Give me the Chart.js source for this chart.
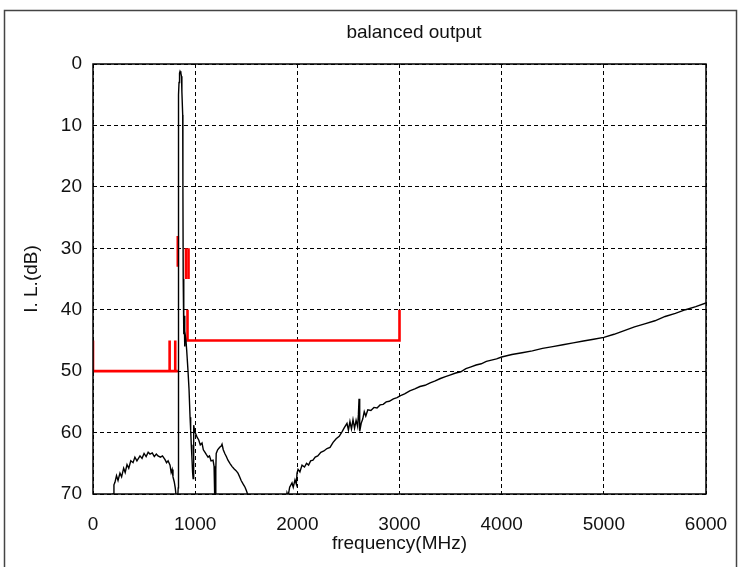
<!DOCTYPE html>
<html>
<head>
<meta charset="utf-8">
<title>balanced output</title>
<script src="https://cdn.jsdelivr.net/npm/chart.js@4.4.1/dist/chart.umd.min.js"></script>
<style>
  html, body { margin: 0; padding: 0; background: #fff; }
  #wrap { position: relative; width: 740px; height: 567px; }
</style>
</head>
<body>
<div id="wrap"><canvas id="chart" width="740" height="567"></canvas></div>
<script>
// insertion loss trace (values past 70 dB fall off the bottom)
const ilFreq = [
  190, 196, 205, 215, 230, 245, 264, 280, 300, 315, 333, 350, 370, 392, 410, 430, 460, 480, 500, 520,
  540, 558, 580, 600, 620, 636, 660, 680, 705, 720, 735, 754, 765, 775, 783, 795, 805, 815, 822, 828,
  834, 836, 837, 838, 842, 847, 852, 860, 866, 870, 878, 880, 883, 887, 890, 893, 896, 900, 910, 917,
  930, 940, 950, 956, 962, 968, 975, 980, 983, 988, 995, 1005, 1020, 1035, 1050, 1067, 1080, 1095, 1110, 1126,
  1140, 1155, 1175, 1185, 1190, 1194, 1199, 1202, 1206, 1220, 1240, 1255, 1263, 1275, 1290, 1305, 1321, 1340, 1360, 1380,
  1400, 1419, 1435, 1450, 1470, 1488, 1500, 1517, 1530, 1600, 1750, 1870, 1890, 1899, 1910, 1925, 1948, 1960, 1977, 1990,
  1997, 2007, 2025, 2046, 2070, 2090, 2110, 2130, 2153, 2175, 2200, 2230, 2260, 2290, 2320, 2350, 2380, 2410, 2440, 2460,
  2486, 2500, 2515, 2530, 2545, 2560, 2575, 2590, 2598, 2604, 2608, 2613, 2625, 2640, 2655, 2670, 2690, 2720, 2750, 2780,
  2810, 2840, 2870, 2900, 2940, 2976, 3010, 3050, 3100, 3150, 3200, 3250, 3300, 3350, 3400, 3450, 3500, 3550, 3600, 3650,
  3700, 3750, 3800, 3850, 3900, 3950, 4000, 4100, 4200, 4300, 4400, 4500, 4600, 4700, 4800, 4900, 5000, 5100, 5200, 5300,
  5400, 5500, 5600, 5700, 5800, 5900, 6000
];
const ilLoss = [
  72, 70, 68.5, 68.1, 67.0, 67.8, 66.6, 67.2, 65.8, 66.5, 65.2, 65.8, 64.6, 64.9, 64.0, 64.6, 63.8, 64.2, 63.4, 63.9,
  63.2, 63.5, 63.3, 63.9, 63.5, 63.8, 64.0, 63.8, 64.4, 64.9, 64.6, 65.3, 66.5, 66.0, 67.2, 68.0, 69.0, 70.5, 72, 71,
  69, 40, 10, 5, 3, 1.5, 1.2, 1.5, 2, 4.5, 8.3, 20, 35, 42, 44, 41, 46, 43.5, 45, 46.6,
  50, 53, 57.5, 59.6, 62, 64, 66.5, 67.5, 60, 58.8, 59.8, 60.2, 60.8, 61.2, 62.0, 61.7, 62.8, 63.2, 63.6, 64.0,
  63.8, 64.6, 64.5, 65.5, 68, 71, 72, 66, 63.4, 62.8, 62.4, 62.2, 61.9, 62.8, 63.4, 63.9, 64.5, 65.0, 65.5, 65.9,
  66.2, 66.6, 67.2, 67.8, 68.4, 68.9, 69.4, 70.2, 71, 73, 75, 73, 71, 69.8, 70.3, 68.9, 68.2, 68.9, 67.7, 68.4,
  66.6, 66.0, 66.4, 65.3, 65.6, 65.0, 65.3, 64.6, 64.5, 64.0, 63.8, 63.2, 63.0, 62.6, 62.4, 61.6, 61.0, 60.6, 59.8, 59.2,
  58.5, 59.6, 58.2, 59.4, 57.9, 59.3, 58.0, 59.0, 57.0, 54.5, 57.5, 59.8, 58.5, 57.8, 56.6, 57.3, 56.3, 56.4, 55.9, 56.0,
  55.5, 55.4, 55.0, 54.9, 54.5, 54.3, 54.0, 53.7, 53.2, 52.9, 52.5, 52.3, 51.9, 51.6, 51.2, 50.9, 50.6, 50.3, 50.1, 49.6,
  49.3, 49.0, 48.8, 48.4, 48.2, 48.0, 47.7, 47.3, 47.0, 46.7, 46.3, 46.0, 45.7, 45.4, 45.1, 44.8, 44.5, 44.0, 43.4, 42.8,
  42.3, 41.8, 41.1, 40.6, 40.0, 39.5, 38.9
];

// spec mask, each piece is [MHz, dB] pairs
const maskLowBand = [[0, 45], [0, 50], [830, 50]];
const maskMark750 = [[750, 45], [750, 50]];
const maskMark805 = [[805, 45], [805, 50]];
const maskPass830 = [[830, 28], [830, 33]];
const maskPass910 = [[910, 30], [910, 35]];
const maskPass935 = [[935, 30], [935, 35]];
const maskHighBand = [[925, 40], [925, 45], [3000, 45], [3000, 40]];

const xTicks = [0, 1000, 2000, 3000, 4000, 5000, 6000];
const yTicks = [0, 10, 20, 30, 40, 50, 60, 70];

const maskPieces = [maskLowBand, maskMark750, maskMark805, maskPass830, maskPass910, maskPass935, maskHighBand];

const FONT = "'Liberation Sans', Arial, sans-serif";

const datasets = [{
  label: 'I.L.',
  data: ilFreq.map((f, i) => ({ x: f, y: ilLoss[i] })),
  borderColor: '#000',
  borderWidth: 1.4,
  pointRadius: 0,
  showLine: true,
  tension: 0
}];
maskPieces.forEach(piece => {
  datasets.push({
    label: 'mask',
    data: piece.map(p => ({ x: p[0], y: p[1] })),
    borderColor: '#ff0000',
    borderWidth: 2.6,
    pointRadius: 0,
    showLine: true,
    tension: 0
  });
});

const framePlugin = {
  id: 'frame',
  beforeDraw(chart) {
    const ctx = chart.ctx;
    ctx.save();
    ctx.fillStyle = '#fff';
    ctx.fillRect(0, 0, chart.width, chart.height);
    ctx.strokeStyle = '#444';
    ctx.lineWidth = 1.5;
    ctx.strokeRect(4.5, 10.5, 732, 600);
    ctx.restore();
  },
  afterDraw(chart) {
    const ctx = chart.ctx;
    const a = chart.chartArea;
    ctx.save();
    ctx.strokeStyle = '#000';
    ctx.lineWidth = 1.5;
    ctx.strokeRect(a.left, a.top, a.right - a.left, a.bottom - a.top);
    ctx.fillStyle = '#111';
    ctx.font = '19px ' + FONT;
    ctx.textAlign = 'center';
    ctx.textBaseline = 'middle';
    ctx.fillText('balanced output', 414, 33);
    ctx.restore();
  }
};

new Chart(document.getElementById('chart'), {
  type: 'scatter',
  data: { datasets: datasets },
  plugins: [framePlugin],
  options: {
    responsive: false,
    animation: false,
    layout: { padding: { top: 64, right: 34, bottom: 0, left: 0 } },
    plugins: {
      legend: { display: false },
      tooltip: { enabled: false },
      title: { display: false }
    },
    scales: {
      x: {
        type: 'linear',
        min: 0,
        max: 6000,
        afterBuildTicks: scale => { scale.ticks = xTicks.map(v => ({ value: v })); },
        afterFit: scale => {
          scale.height = 73;
          scale.paddingLeft = 0;
          scale.paddingRight = 0;
        },
        grid: { color: '#000', lineWidth: 1, drawTicks: false },
        border: { display: false, dash: [4, 3] },
        ticks: {
          color: '#111',
          padding: 19,
          maxRotation: 0,
          font: { family: FONT, size: 19 },
          callback: v => String(v)
        },
        title: {
          display: true,
          text: 'frequency(MHz)',
          color: '#111',
          padding: { top: 0, bottom: 12 },
          font: { family: FONT, size: 19 }
        }
      },
      y: {
        type: 'linear',
        reverse: true,
        min: 0,
        max: 70,
        afterBuildTicks: scale => { scale.ticks = yTicks.map(v => ({ value: v })); },
        afterFit: scale => { scale.width = 93; },
        grid: { color: '#000', lineWidth: 1, drawTicks: false },
        border: { display: false, dash: [4, 3] },
        ticks: { color: '#111', padding: 11, font: { family: FONT, size: 19 }, callback: v => String(v) },
        title: {
          display: true,
          text: 'I. L.(dB)',
          color: '#111',
          padding: { top: 20, bottom: 0 },
          font: { family: FONT, size: 19 }
        }
      }
    }
  }
});
</script>
</body>
</html>
